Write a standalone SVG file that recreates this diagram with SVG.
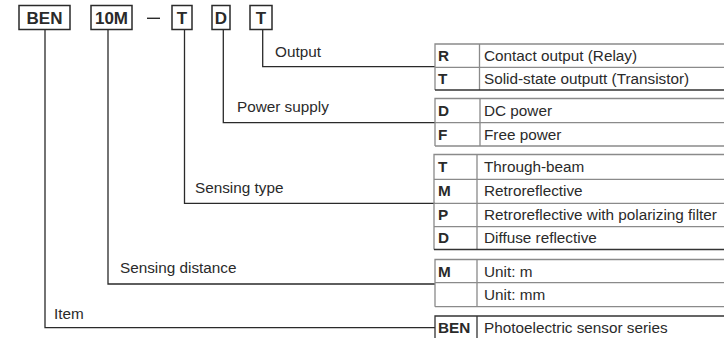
<svg xmlns="http://www.w3.org/2000/svg" width="724" height="338" viewBox="0 0 724 338">
<style>
text{font-family:"Liberation Sans",Arial,sans-serif;fill:#2a2a2a}
.box{fill:#fff;stroke:#2a2a2a;stroke-width:1.5}
.hd{font-size:17px;font-weight:bold;text-anchor:middle}
.lbl{font-size:15.3px}
.code{font-size:15.3px;font-weight:bold}
.desc{font-size:15.3px}
.tl{stroke:#8a8a8a;stroke-width:1.3;fill:none}
.tb{stroke:#333;stroke-width:1.3;fill:none}
.con{stroke:#2a2a2a;stroke-width:1.3;fill:none}
</style>
<rect width="724" height="338" fill="#fff"/>
<g id="code">
<g id="box-ben"><rect class="box" x="19" y="5.5" width="51" height="24"/><text class="hd" x="44.5" y="24">BEN</text></g>
<g id="box-10m"><rect class="box" x="91" y="5.5" width="41" height="24"/><text class="hd" x="111.5" y="24">10M</text></g>
<line x1="147" y1="18.3" x2="160" y2="18.3" stroke="#2a2a2a" stroke-width="1.4"/>
<g id="box-t1"><rect class="box" x="172" y="5.5" width="20" height="24"/><text class="hd" x="182" y="24">T</text></g>
<g id="box-d"><rect class="box" x="212" y="5.5" width="18" height="24"/><text class="hd" x="221" y="24">D</text></g>
<g id="box-t2"><rect class="box" x="250" y="5.5" width="22" height="24"/><text class="hd" x="261" y="24">T</text></g>
</g>
<g id="connectors">
<path class="con" d="M45 29.5V327.7H435"/>
<path class="con" d="M108 29.5V284H435"/>
<path class="con" d="M184.5 29.5V203.3H435"/>
<path class="con" d="M223.3 29.5V122.7H435"/>
<path class="con" d="M262.7 29.5V66.7H435"/>
</g>
<g id="labels">
<text class="lbl" x="275" y="57">Output</text>
<text class="lbl" x="237" y="112">Power supply</text>
<text class="lbl" x="195" y="193">Sensing type</text>
<text class="lbl" x="120" y="273">Sensing distance</text>
<text class="lbl" x="54" y="319">Item</text>
</g>
<g id="table-output">
<path class="tl" d="M724 44H435V90M479.5 44V90M435 67.3H724"/>
<path class="tb" d="M435 90H724"/>
<text class="code" x="438" y="61">R</text><text class="desc" x="484" y="61">Contact output (Relay)</text>
<text class="code" x="438" y="84">T</text><text class="desc" x="484" y="84">Solid-state outputt (Transistor)</text>
</g>
<g id="table-power">
<path class="tl" d="M724 98.5H435V146M480 98.5V146M435 122.7H724"/>
<path class="tl" d="M435 146H724"/>
<text class="code" x="438" y="116">D</text><text class="desc" x="484" y="116">DC power</text>
<text class="code" x="438" y="140">F</text><text class="desc" x="484" y="140">Free power</text>
</g>
<g id="table-sensing-type">
<path class="tl" d="M724 154.5H434V249.5M477 154.5V249.5M434 179.3H724M434 203.3H724M434 226.7H724"/>
<path class="tb" d="M434 249.5H724"/>
<text class="code" x="438" y="172">T</text><text class="desc" x="484" y="172">Through-beam</text>
<text class="code" x="438" y="196">M</text><text class="desc" x="484" y="196">Retroreflective</text>
<text class="code" x="438" y="220">P</text><text class="desc" x="484" y="220">Retroreflective with polarizing filter</text>
<text class="code" x="438" y="243">D</text><text class="desc" x="484" y="243">Diffuse reflective</text>
</g>
<g id="table-distance">
<path class="tl" d="M724 259.5H435V306.7M477 259.5V306.7M435 282.7H724"/>
<path class="tl" d="M435 306.7H724"/>
<text class="code" x="438" y="277">M</text><text class="desc" x="484" y="277">Unit: m</text>
<text class="desc" x="484" y="300">Unit: mm</text>
</g>
<g id="table-item">
<path class="tb" d="M724 316H435V340M477 316V340"/>
<text class="code" x="438" y="333">BEN</text><text class="desc" x="484" y="333">Photoelectric sensor series</text>
</g>
</svg>
